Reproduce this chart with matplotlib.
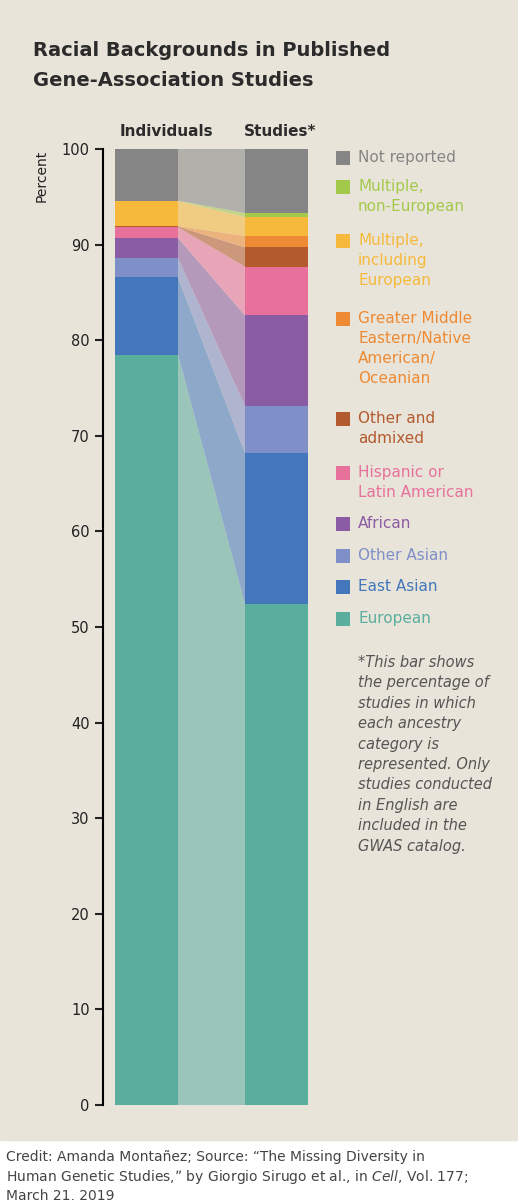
import numpy as np
import matplotlib.pyplot as plt
import matplotlib.colors as mcolors
from matplotlib.patches import Rectangle, Polygon

categories = ['European', 'East Asian', 'Other Asian', 'African', 'Hispanic or\nLatin American',
              'Other and\nadmixed', 'Greater Middle\nEastern/Native\nAmerican/\nOceanian',
              'Multiple,\nincluding\nEuropean', 'Multiple,\nnon-European', 'Not reported']
individuals = [78.5, 8.1, 2.0, 2.1, 1.1, 0.1, 0.05, 2.6, 0.05, 5.4]
studies = [52.4, 15.8, 4.9, 9.5, 5.1, 2.0, 1.2, 2.0, 0.4, 6.7]
colors = ['#5aae9e', '#4376bb', '#7f8fc7', '#8a5ca3', '#e7719b', '#b35a2f', '#ee8a33',
          '#f6b93b', '#a3c94b', '#858585']
yticks = [0, 10, 20, 30, 40, 50, 60, 70, 80, 90, 100]

BG = '#e9e4d9'
W, H = 518, 1200
fig = plt.figure(figsize=(W / 100, H / 100), dpi=100, facecolor='white')
fig.add_artist(Rectangle((0, (H - 1140) / H), 1, 1140 / H, transform=fig.transFigure,
                         color=BG, zorder=0))

def fx(px):
    return px / W

def fy(py):
    return 1 - py / H

ax = fig.add_axes([fx(103), fy(1105), fx(415), fy(149) - fy(1105)])
ax.set_facecolor('none')
ax.set_xlim(0, 415)
ax.set_ylim(0, 100)

x_ind = (12, 75)
x_stu = (142, 205)
bg_rgb = np.array(mcolors.to_rgb(BG))
b_i = np.concatenate([[0], np.cumsum(individuals)])
b_s = np.concatenate([[0], np.cumsum(studies)])
b_i = b_i / b_i[-1] * 100
b_s = b_s / b_s[-1] * 100
for k, c in enumerate(colors):
    ax.add_patch(Rectangle((x_ind[0], b_i[k]), x_ind[1] - x_ind[0], b_i[k + 1] - b_i[k], color=c, lw=0))
    ax.add_patch(Rectangle((x_stu[0], b_s[k]), x_stu[1] - x_stu[0], b_s[k + 1] - b_s[k], color=c, lw=0))
    light = 0.55 * np.array(mcolors.to_rgb(c)) + 0.45 * bg_rgb
    ax.add_patch(Polygon([(x_ind[1], b_i[k]), (x_stu[0], b_s[k]), (x_stu[0], b_s[k + 1]),
                          (x_ind[1], b_i[k + 1])], closed=True, color=light, lw=0))

for s in ['top', 'right', 'bottom']:
    ax.spines[s].set_visible(False)
ax.spines['left'].set_linewidth(1.5)
ax.set_xticks([])
ax.set_yticks(yticks)
ax.tick_params(axis='y', direction='out', length=6, width=1.5, labelsize=10.5, colors='#222222')

fig.text(fx(42), fy(150), 'Percent', rotation=90, ha='center', va='top', fontsize=10, color='#222222')
fig.text(fx(33), fy(50), 'Racial Backgrounds in Published', fontsize=14, fontweight='bold',
         va='center', color='#2b2b2b')
fig.text(fx(33), fy(81), 'Gene-Association Studies', fontsize=14, fontweight='bold',
         va='center', color='#2b2b2b')
fig.text(fx(166), fy(131), 'Individuals', fontsize=11, fontweight='bold', ha='center', va='center', color='#2b2b2b')
fig.text(fx(280), fy(131), 'Studies*', fontsize=11, fontweight='bold', ha='center', va='center', color='#2b2b2b')

# legend, top to bottom
leg_y = [158, 187, 241, 319, 419, 473, 524, 556, 587, 619]
order = list(range(len(categories)))[::-1]
for y, k in zip(leg_y, order):
    fig.add_artist(Rectangle((fx(336), fy(y + 7)), fx(14), fy(y - 7) - fy(y + 7),
                             transform=fig.transFigure, color=colors[k], lw=0))
    fig.text(fx(358), fy(y - 8), categories[k], fontsize=11, va='top', color=colors[k],
             linespacing=1.42)

note = ('*This bar shows\nthe percentage of\nstudies in which\neach ancestry\ncategory is\n'
        'represented. Only\nstudies conducted\nin English are\nincluded in the\nGWAS catalog.')
fig.text(fx(358), fy(655), note, fontsize=10.5, style='italic', va='top', color='#555555', linespacing=1.45)

fig.text(fx(6), fy(1150), 'Credit: Amanda Montañez; Source: \u201cThe Missing Diversity in\n'
         'Human Genetic Studies,\u201d by Giorgio Sirugo et al., in $\\it{Cell}$, Vol. 177;\nMarch 21, 2019',
         fontsize=10, va='top', color='#444444', linespacing=1.3)

fig.savefig('out.png', dpi=100, facecolor='white')
